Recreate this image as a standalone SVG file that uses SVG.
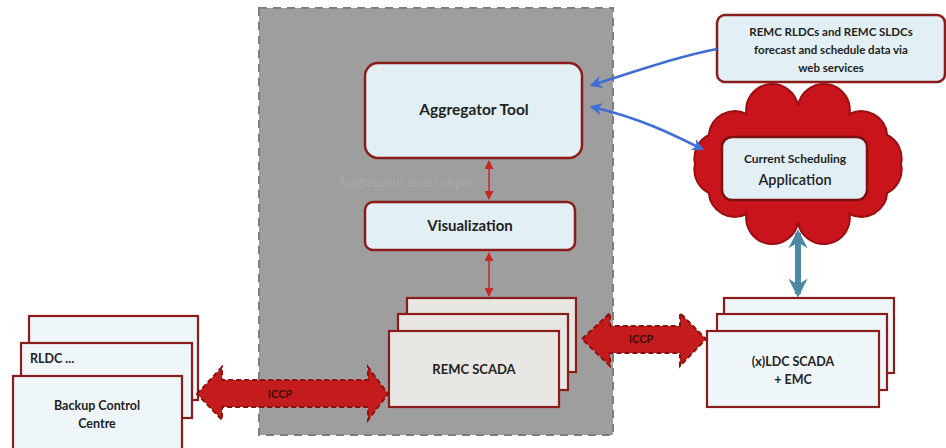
<svg xmlns="http://www.w3.org/2000/svg" width="946" height="448" viewBox="0 0 946 448">
  <defs>
    <style>
      .lbl { font-family: Lato, "Open Sans", "Liberation Sans", sans-serif; font-weight: bold; fill: #222; text-anchor: middle; }
      .box { fill: #e2f0f5; stroke: #8b1c1c; stroke-width: 2.5; }
      .sheet { fill: #eef6fa; stroke: #8b1c1c; stroke-width: 2.2; }
      .scada { fill: #e9e7e3; stroke: #8b1c1c; stroke-width: 2.2; }
      .iccp { fill: #c41c1c; stroke: #8a0f0f; stroke-width: 2; stroke-dasharray: 5 3; }
      .thin { fill: none; stroke: #c62828; stroke-width: 1.5; }
      .web { fill: none; stroke: #3f6fd6; stroke-width: 2.5; }
    </style>
    <marker id="redHead" viewBox="0 0 10 10" refX="9" refY="5" markerWidth="6" markerHeight="6" orient="auto-start-reverse">
      <path d="M0,0 L10,5 L0,10 z" fill="#c62828"/>
    </marker>
    <marker id="blueHead" viewBox="0 0 10 10" refX="8" refY="5" markerWidth="5" markerHeight="5" orient="auto-start-reverse">
      <path d="M0,0 L10,5 L0,10 L3,5 z" fill="#3f6fd6"/>
    </marker>
    <marker id="tealHead" viewBox="0 0 10 10" refX="8" refY="5" markerWidth="3.2" markerHeight="3.2" orient="auto-start-reverse">
      <path d="M0,0 L10,5 L0,10 L3,5 z" fill="#4d88a4"/>
    </marker>
  </defs>

  <rect width="946" height="448" fill="#ffffff"/>

  <!-- REMC boundary -->
  <g id="remc-panel">
    <rect x="259" y="8" width="354" height="427" fill="#9e9e9e" stroke="#7e7e7e" stroke-width="2" stroke-dasharray="8 6"/>
    <text x="405" y="187" font-family="Liberation Serif, serif" font-size="15" fill="#a9a9a9" text-anchor="middle">Aggregator tool output</text>
  </g>

  <g id="aggregator">
    <rect class="box" x="365" y="63" width="217" height="95" rx="13"/>
    <text class="lbl" x="474" y="115" font-size="15.5">Aggregator Tool</text>
  </g>

  <g id="visualization">
    <rect class="box" x="365" y="202" width="210" height="48" rx="8"/>
    <text class="lbl" x="470" y="231" font-size="15">Visualization</text>
  </g>

  <g id="remc-scada">
    <rect class="scada" x="407" y="298" width="169" height="74"/>
    <rect class="scada" x="398" y="314" width="170" height="76"/>
    <rect class="scada" x="389" y="331" width="170" height="76"/>
    <text class="lbl" x="474" y="374" font-size="13">REMC SCADA</text>
  </g>

  <g id="backup-centre">
    <rect class="sheet" x="29" y="316" width="169" height="84"/>
    <rect class="sheet" x="21" y="343" width="171" height="75"/>
    <text class="lbl" x="30" y="363" font-size="12.5" style="text-anchor:start">RLDC ...</text>
    <rect class="sheet" x="13" y="376" width="169" height="80"/>
    <text class="lbl" x="97" y="410" font-size="12.5">Backup Control</text>
    <text class="lbl" x="97" y="428" font-size="12.5">Centre</text>
  </g>

  <g id="ldc-scada">
    <rect class="sheet" x="724" y="298" width="170" height="75"/>
    <rect class="sheet" x="717" y="314" width="170" height="76"/>
    <rect class="sheet" x="707" y="331" width="172" height="76"/>
    <text class="lbl" x="793" y="366" font-size="12.5">(x)LDC SCADA</text>
    <text class="lbl" x="793" y="384" font-size="12.5">+ EMC</text>
  </g>

  <g id="web-services">
    <rect class="box" x="717" y="15" width="228" height="67" rx="8"/>
    <text class="lbl" x="831" y="36" font-size="11.5">REMC RLDCs and REMC SLDCs</text>
    <text class="lbl" x="831" y="54" font-size="11.5">forecast and schedule data via</text>
    <text class="lbl" x="831" y="72" font-size="11.5">web services</text>
  </g>

  <g id="scheduling-app">
    <!-- cloud outline built from outward bulging arcs -->
    <path d="M901,164 A26,26 0 0 1 887.2,193 A26,26 0 0 1 849.5,214 A26,26 0 0 1 798,222 A26,26 0 0 1 746.5,214 A26,26 0 0 1 708.8,193 A26,26 0 0 1 695,164 A26,26 0 0 1 708.8,135 A26,26 0 0 1 746.5,114 A26,26 0 0 1 798,106 A26,26 0 0 1 849.5,114 A26,26 0 0 1 887.2,135 A26,26 0 0 1 901,164 z" fill="#c8141a" stroke="#9a0e12" stroke-width="2"/>
    <rect x="722" y="137" width="145" height="63" rx="10" fill="#e2f0f5" stroke="#7a1010" stroke-width="2.5"/>
    <text class="lbl" x="795" y="163" font-size="12">Current Scheduling</text>
    <text x="795" y="185" font-family="Lato, 'Open Sans', 'Liberation Sans', sans-serif" font-size="14.5" font-weight="600" fill="#222" text-anchor="middle">Application</text>
  </g>

  <g id="connectors">
    <path class="thin" d="M489,161 L489,199" marker-start="url(#redHead)" marker-end="url(#redHead)"/>
    <path class="thin" d="M489,253 L489,296" marker-start="url(#redHead)" marker-end="url(#redHead)"/>
    <path class="web" d="M717,49 C680,56 640,70 592,85" marker-end="url(#blueHead)"/>
    <path class="web" d="M592,107 C640,118 672,134 702,149" marker-start="url(#blueHead)" marker-end="url(#blueHead)"/>
    <path d="M798,233 L798,294" fill="none" stroke="#4d88a4" stroke-width="6" marker-start="url(#tealHead)" marker-end="url(#tealHead)"/>
    <polygon class="iccp" points="197,394 222,367 222,380 368,380 368,367 388,394 368,420 368,407 222,407 222,420"/>
    <text class="lbl" x="280" y="398" font-size="11" style="fill:#3a0a0a">ICCP</text>
    <polygon class="iccp" points="582,339 610,313 610,326 680,326 680,313 706,339 680,366 680,353 610,353 610,366"/>
    <text class="lbl" x="641" y="343" font-size="11" style="fill:#3a0a0a">ICCP</text>
  </g>
</svg>
